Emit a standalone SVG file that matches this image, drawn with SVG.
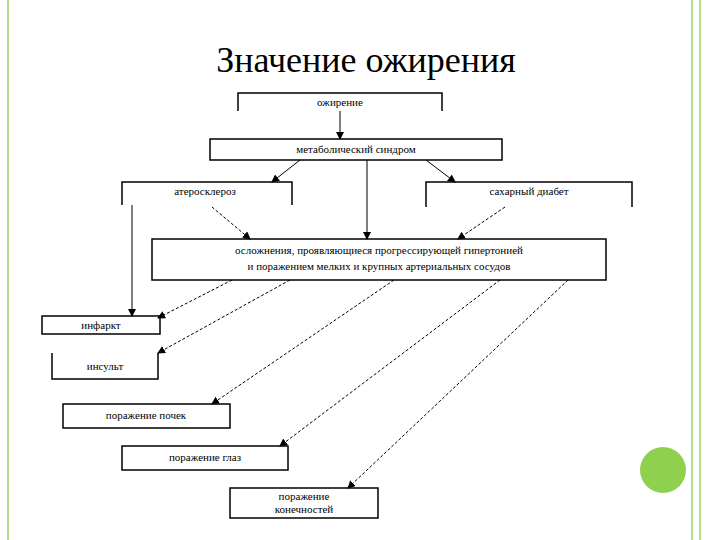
<svg xmlns="http://www.w3.org/2000/svg" width="720" height="540" viewBox="0 0 720 540">
<defs>
<style>
.b{fill:none;stroke:#000;stroke-width:1.5}
.t{font-family:"Liberation Serif","DejaVu Serif","Times New Roman",serif;font-size:11px;text-anchor:middle;fill:#000}
.h{font-family:"Liberation Serif","DejaVu Serif","Times New Roman",serif;font-size:36px;text-anchor:middle;fill:#000}
.s{stroke:#000;stroke-width:1;fill:none;marker-end:url(#a)}
.d{stroke-dasharray:3,2}
</style>
<marker id="a" markerWidth="8" markerHeight="8" refX="7" refY="4" orient="auto" markerUnits="userSpaceOnUse"><path d="M0,0 L8,4 L0,8 z"/></marker>
</defs>
<rect width="720" height="540" fill="#fff"/>
<line x1="8" y1="0" x2="8" y2="540" stroke="#b5de8c" stroke-width="2"/>
<line x1="692" y1="0" x2="692" y2="540" stroke="#b5de8c" stroke-width="2"/>
<line x1="700" y1="0" x2="700" y2="540" stroke="#b5de8c" stroke-width="2"/>
<circle cx="663" cy="470" r="23" fill="#8fd14f"/>
<text class="h" x="366" y="72">Значение ожирения</text>
<g id="n1"><path class="b" d="M238,111V93H442V111"/><text class="t" x="340" y="106">ожирение</text></g>
<g id="n2"><rect class="b" x="210" y="139" width="292" height="21"/><text class="t" x="356" y="153">метаболический синдром</text></g>
<g id="n3"><path class="b" d="M122,205V182H292V205"/><text class="t" x="205" y="195">атеросклероз</text></g>
<g id="n4"><path class="b" d="M426,207V182H632V207"/><text class="t" x="529" y="195">сахарный диабет</text></g>
<g id="n5"><rect class="b" x="152" y="239" width="454" height="41"/><text class="t" x="379" y="254">осложнения, проявляющиеся прогрессирующей гипертонией</text><text class="t" x="379" y="270">и поражением мелких и крупных артериальных сосудов</text></g>
<g id="n6"><rect class="b" x="42" y="316" width="118" height="18"/><text class="t" x="101" y="329">инфаркт</text></g>
<g id="n7"><path class="b" d="M52,353V379H158V353"/><text class="t" x="105" y="370">инсульт</text></g>
<g id="n8"><rect class="b" x="63" y="404" width="167" height="24"/><text class="t" x="146" y="419">поражение почек</text></g>
<g id="n9"><rect class="b" x="122" y="446" width="166" height="24"/><text class="t" x="205" y="461">поражение глаз</text></g>
<g id="n10"><rect class="b" x="230" y="488" width="148" height="30"/><text class="t" x="304" y="500">поражение</text><text class="t" x="304" y="513">конечностей</text></g>
<g id="connectors">
<line class="s" x1="340" y1="111" x2="340" y2="139"/>
<line class="s" x1="300" y1="160" x2="272" y2="182"/>
<line class="s" x1="426" y1="160" x2="455" y2="182"/>
<line class="s" x1="367" y1="160" x2="367" y2="239"/>
<line class="s d" x1="212" y1="207" x2="250" y2="239"/>
<line class="s d" x1="505" y1="207" x2="458" y2="239"/>
<line class="s" x1="132" y1="205" x2="132" y2="316"/>
<line class="s d" x1="232" y1="280" x2="158" y2="318"/>
<line class="s d" x1="290" y1="280" x2="158" y2="353"/>
<line class="s d" x1="394" y1="280" x2="212" y2="404"/>
<line class="s d" x1="500" y1="280" x2="280" y2="446"/>
<line class="s d" x1="568" y1="280" x2="348" y2="488"/>
</g>
</svg>
